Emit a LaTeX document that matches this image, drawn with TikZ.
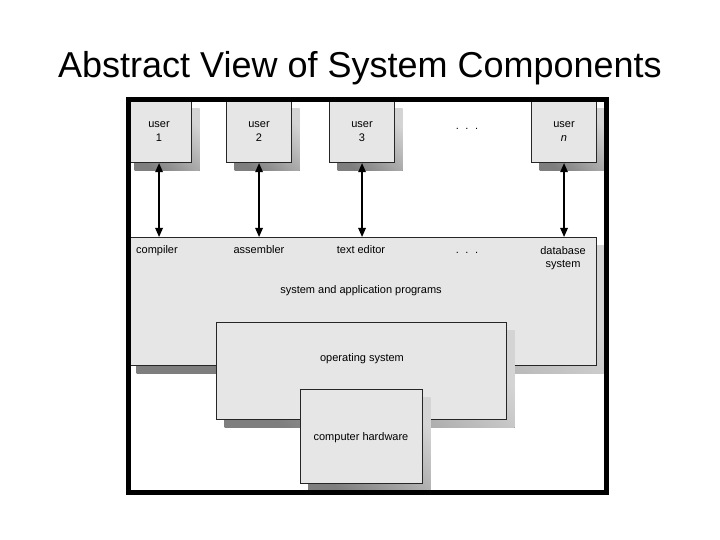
\documentclass[tikz,border=0pt]{standalone}
\usepackage{fontspec}
\setmainfont{Liberation Sans}
\usetikzlibrary{arrows.meta,shadows}
\definecolor{boxfill}{HTML}{E6E6E6}
\definecolor{shadtop}{HTML}{D4D4D4}
\definecolor{shadbot}{HTML}{7E7E7E}
\begin{document}
\begin{tikzpicture}[x=1pt,y=-1pt,
  box/.style={draw=black!85, fill=boxfill, line width=1.1pt, inner sep=0pt, anchor=north west,
    font=\fontsize{11}{13.5}\selectfont, align=center,
    drop shadow={shadow xshift=8pt, shadow yshift=-8pt, opacity=1, top color=shadtop, bottom color=shadbot, shading angle=-45}},
  lbl/.style={font=\fontsize{11}{13.5}\selectfont, anchor=base, inner sep=0pt, align=center},
  arr/.style={{Triangle[length=9pt,width=7.5pt]}-{Triangle[length=9pt,width=7.5pt]}, line width=1.4pt}]
\useasboundingbox (0,0) rectangle (720,540);
% title
\node[font=\fontsize{36}{40}\selectfont, anchor=base, inner sep=0pt] (title) at (360,77.5) {Abstract View of System Components};
% users
\node[box, minimum width=65, minimum height=62] (u1) at (126,100) {user\\1};
\node[box, minimum width=65, minimum height=62] (u2) at (226,100) {user\\2};
\node[box, minimum width=65, minimum height=62] (u3) at (329,100) {user\\3};
\node[box, minimum width=65, minimum height=62] (un) at (531,100) {user\\\textit{n}};
\node[lbl] (dots1) at (467,130) {.\hspace{6.5pt}.\hspace{6.5pt}.};
% programs
\node[box, minimum width=468, minimum height=128] (prog) at (128,237) {};
\node[lbl] (compiler) at (157,253.5) {compiler};
\node[lbl] (assembler) at (259,253.5) {assembler};
\node[lbl] (texted) at (361,253.5) {text editor};
\node[lbl] (dots2) at (467,253.5) {.\hspace{6.5pt}.\hspace{6.5pt}.};
\node[lbl, anchor=center] (db) at (563,258) {database\\system};
\node[lbl] (sysapp) at (361,293.3) {system and application programs};
% operating system
\node[box, minimum width=290, minimum height=97] (os) at (216,322) {};
\node[lbl] (oslbl) at (362,361.7) {operating system};
% hardware
\node[box, minimum width=122, minimum height=94] (hw) at (300,389) {};
\node[lbl] (hwlbl) at (361,440) {computer hardware};
% arrows
\draw[arr] (u1.south) -- (u1.south |- prog.north);
\draw[arr] (u2.south) -- (u2.south |- prog.north);
\draw[arr] (u3.south) -- (u3.south |- prog.north);
\draw[arr] (un.south) -- (un.south |- prog.north);
% frame
\node[draw=black, line width=5pt, minimum width=478, minimum height=392, anchor=north west, inner sep=0pt] (frame) at (125.5,97.5) {};
\end{tikzpicture}
\end{document}
